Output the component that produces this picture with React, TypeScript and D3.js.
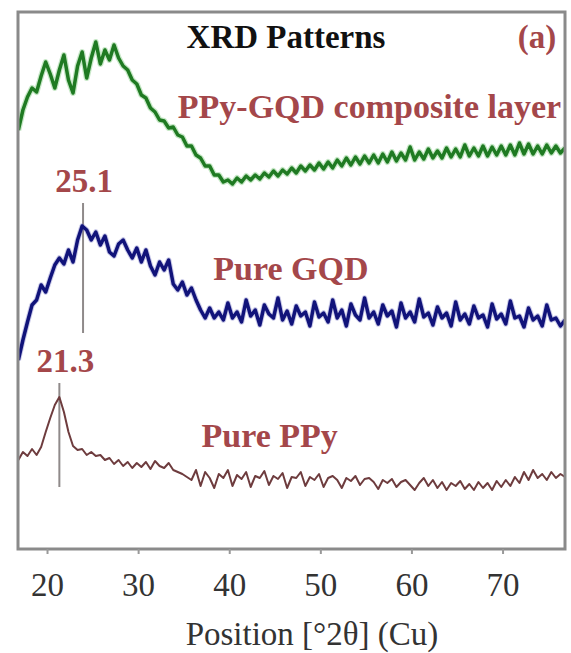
import React from "react";
import * as d3 from "d3";

// Scan grid (2θ, degrees): start angle and step of the diffractometer scan
const scanStart = 16.8;
const scanStep = 0.5;

// Intensities (a.u., stacked/offset as in the figure)
const compositeIntensity = [
  419, 439, 452, 461, 457, 473, 487, 475, 461, 479, 494, 469, 456, 483, 497, 471, 491, 507, 485, 499,
  489, 504, 491, 483, 479, 469, 465, 454, 451, 441, 437, 429, 428, 421, 422, 414, 412, 403, 403, 394,
  391, 383, 383, 374, 374, 367, 369, 365, 371, 367, 373, 369, 374, 370, 376, 372, 378, 373, 379, 375,
  381, 376, 383, 378, 384, 379, 386, 380, 387, 381, 389, 383, 391, 384, 392, 385, 393, 386, 394, 386,
  395, 387, 397, 388, 396, 389, 402, 389, 397, 390, 400, 391, 398, 391, 401, 392, 400, 392, 404, 393,
  401, 393, 403, 393, 402, 394, 403, 394, 404, 394, 406, 395, 405, 395, 403, 395, 404, 396, 403, 396, 401,
];

const gqdIntensity = [
  189, 209, 227, 244, 249, 264, 257, 271, 284, 291, 285, 299, 287, 309, 323, 319, 309, 317, 304, 313,
  297, 293, 305, 309, 299, 291, 301, 287, 299, 283, 274, 287, 279, 289, 265, 259, 267, 254, 261, 249,
  239, 231, 241, 231, 237, 229, 246, 231, 237, 227, 249, 233, 239, 224, 244, 235, 231, 251, 229, 238,
  225, 243, 233, 237, 223, 247, 232, 236, 227, 249, 231, 239, 223, 245, 234, 229, 251, 231, 237, 225,
  244, 233, 238, 222, 246, 231, 237, 227, 250, 232, 236, 224, 242, 231, 236, 223, 247, 229, 235, 225,
  243, 231, 234, 222, 245, 230, 235, 225, 248, 231, 233, 222, 241, 229, 233, 223, 244, 229, 231, 223, 229,
];

const ppyIntensity = [
  89, 97, 93, 100, 94, 102, 117, 131, 144, 152, 137, 117, 103, 99, 100, 94, 97, 93, 94, 89,
  91, 85, 89, 83, 87, 81, 86, 82, 87, 80, 88, 83, 81, 86, 79, 77, 75, 72, 69, 79,
  63, 77, 71, 61, 75, 71, 79, 63, 74, 70, 77, 62, 73, 71, 78, 64, 73, 70, 76, 61,
  72, 71, 77, 63, 72, 69, 75, 62, 71, 73, 69, 61, 71, 68, 73, 64, 70, 71, 67, 60,
  69, 66, 70, 62, 67, 69, 64, 59, 66, 71, 63, 69, 61, 67, 59, 66, 63, 68, 60, 65,
  59, 67, 61, 66, 59, 68, 62, 69, 63, 72, 66, 77, 69, 79, 71, 75, 69, 77, 71, 75, 72,
];

const xTicks = [20, 30, 40, 50, 60, 70];

// Peak annotations: drawn position, label text, marker line extent (a.u.)
const peakAt = [23.9, 21.3];
const peakLabels = ["25.1", "21.3"];
const peakLineTop = [346, 166];
const peakLineBottom = [216, 62];

const seriesLabels = ["PPy-GQD composite layer", "Pure GQD", "Pure PPy"];
const seriesLabelX = [34.3, 38.2, 36.9];
const seriesLabelY = [431, 269, 102];

const W = 571;
const H = 653;
const frame = { left: 18, right: 565, top: 12, bottom: 549 };

const SERIF = "Liberation Serif";

export default function App() {
  const x = d3.scaleLinear().domain([16.76, 76.8]).range([frame.left, frame.right]);
  const y = d3.scaleLinear().domain([0, 537]).range([frame.bottom, frame.top]);

  const toPts = (arr: number[]) => arr.map((v, i) => [scanStart + scanStep * i, v] as [number, number]);
  const line = d3
    .line<[number, number]>()
    .x((d) => x(d[0]))
    .y((d) => y(d[1]));

  const labelColor = "#a4474a";
  const tStyle = { fontFamily: SERIF };

  return (
    <svg
      width={W}
      height={H}
      fontFamily={SERIF}
      style={{ position: "absolute", left: 0, top: 0, background: "#fff", fontFamily: SERIF }}
    >
      <style>{`text { font-family: "Liberation Serif", "Times New Roman", serif; }`}</style>
      <rect x={0} y={0} width={W} height={H} fill="#fff" />
      <defs>
        <clipPath id="plotClip">
          <rect x={frame.left} y={frame.top} width={frame.right - frame.left} height={frame.bottom - frame.top} />
        </clipPath>
      </defs>

      {/* peak marker lines */}
      {peakAt.map((p, i) => (
        <line
          key={"pk" + i}
          x1={x(p)}
          x2={x(p)}
          y1={y(peakLineTop[i])}
          y2={y(peakLineBottom[i])}
          stroke="#8f8a8a"
          strokeWidth={2}
        />
      ))}

      <g clipPath="url(#plotClip)" fill="none" strokeLinejoin="round">
        <path d={line(toPts(compositeIntensity)) || ""} stroke="#8fd18f" strokeWidth={6} opacity={0.5} />
        <path d={line(toPts(compositeIntensity)) || ""} stroke="#1f7a22" strokeWidth={3.5} />
        <path d={line(toPts(gqdIntensity)) || ""} stroke="#6a6ac0" strokeWidth={5.5} opacity={0.35} />
        <path d={line(toPts(gqdIntensity)) || ""} stroke="#11137a" strokeWidth={3.5} />
        <path d={line(toPts(ppyIntensity)) || ""} stroke="#6e3c3e" strokeWidth={2} />
      </g>

      {/* frame */}
      <rect
        x={frame.left}
        y={frame.top}
        width={frame.right - frame.left}
        height={frame.bottom - frame.top}
        fill="none"
        stroke="#8a8a8a"
        strokeWidth={3}
      />

      {/* x ticks */}
      {xTicks.map((t) => (
        <line key={"t" + t} x1={x(t)} x2={x(t)} y1={frame.bottom} y2={frame.bottom + 5} stroke="#999" strokeWidth={2} />
      ))}
      {xTicks.map((t) => (
        <text key={"l" + t} x={x(t)} y={596} textAnchor="middle" fontSize={33} fill="#333" fontFamily={SERIF} style={tStyle}>
          {t}
        </text>
      ))}
      <text x={312} y={645} textAnchor="middle" fontSize={33} fill="#333" fontFamily={SERIF} style={tStyle}>
        Position [°2θ] (Cu)
      </text>

      {/* title and panel letter */}
      <text x={286} y={48} textAnchor="middle" fontSize={33} fontWeight="bold" fill="#111" fontFamily={SERIF} style={tStyle}>
        XRD Patterns
      </text>
      <text x={537} y={48} textAnchor="middle" fontSize={33} fontWeight="bold" fill={labelColor} fontFamily={SERIF} style={tStyle}>
        (a)
      </text>

      {/* series labels */}
      {seriesLabels.map((s, i) => (
        <text
          key={s}
          x={x(seriesLabelX[i])}
          y={y(seriesLabelY[i])}
          fontSize={34}
          fontWeight="bold"
          fill={labelColor}
          fontFamily={SERIF}
          style={tStyle}
        >
          {s}
        </text>
      ))}

      {/* peak labels */}
      {peakLabels.map((s, i) => (
        <text
          key={s}
          x={x(peakAt[i]) + (i === 0 ? 1 : 6)}
          y={y(peakLineTop[i]) - 11}
          textAnchor="middle"
          fontSize={33}
          fontWeight="bold"
          fill={labelColor}
          fontFamily={SERIF}
          style={tStyle}
        >
          {s}
        </text>
      ))}
    </svg>
  );
}
